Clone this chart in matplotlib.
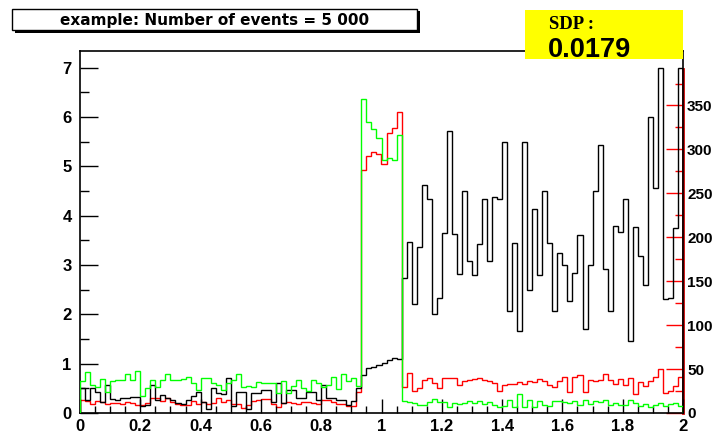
import numpy as np
import matplotlib
matplotlib.use('Agg')
import matplotlib.pyplot as plt
from matplotlib.patches import Rectangle
from matplotlib.ticker import MultipleLocator, FixedLocator

# 120 bins from 0 to 2
x_min, x_max, n_bins = 0.0, 2.0, 120

# black histogram (left axis)
black = [0.50, 0.26, 0.50, 0.43, 0.23, 0.57, 0.28, 0.26, 0.30, 0.30, 0.33, 0.33, 0.14, 0.16, 0.57,
         0.26, 0.37, 0.30, 0.26, 0.21, 0.18, 0.26, 0.35, 0.43, 0.23, 0.09, 0.50,
         0.40, 0.39, 0.70, 0.14, 0.43, 0.43, 0.09, 0.41, 0.41, 0.47, 0.47, 0.23, 0.60, 0.21,
         0.47, 0.47, 0.30, 0.30, 0.43, 0.43, 0.26, 0.57, 0.30, 0.30, 0.26, 0.26, 0.16, 0.24, 0.50,
         0.77, 0.91, 0.94, 0.97, 1.01, 1.08, 1.12, 1.09,
         2.73, 3.46, 2.20, 3.37, 4.62, 4.33, 2.01, 2.34, 3.64,
         5.71, 3.63, 2.81, 4.50, 3.08, 2.79, 3.42, 4.33, 3.08, 4.38, 4.33, 5.50, 2.07, 3.44,
         1.66, 5.50, 2.49, 4.13, 2.79, 4.50, 3.44, 2.07, 3.24,
         3.00, 2.27, 2.83, 3.60, 1.71, 3.00, 4.51, 5.44, 2.92, 2.07, 3.80, 3.66, 4.33, 1.46,
         3.78, 3.18, 2.60, 6.01, 4.56, 7.00, 2.31, 2.34, 3.75, 7.00]

# green histogram (left axis)
green = [0.64, 0.84, 0.57, 0.53, 0.68, 0.43, 0.64, 0.66, 0.67, 0.80, 0.67, 0.86, 0.35, 0.50, 0.67,
         0.53, 0.67, 0.80, 0.67, 0.66, 0.68, 0.74, 0.60, 0.47, 0.70, 0.70, 0.60,
         0.57, 0.47, 0.60, 0.67, 0.80, 0.52, 0.55, 0.52, 0.62, 0.60, 0.60, 0.60, 0.41, 0.64,
         0.40, 0.55, 0.66, 0.50, 0.45, 0.67, 0.60, 0.52, 0.57, 0.74, 0.48, 0.79, 0.64, 0.70, 0.55,
         6.36, 5.91, 5.76, 5.58, 5.13, 5.18, 5.12, 5.63,
         0.24, 0.22, 0.20, 0.16, 0.16, 0.23, 0.28, 0.22, 0.23, 0.13, 0.21, 0.19, 0.21, 0.24,
         0.21, 0.24, 0.19, 0.23, 0.16, 0.12, 0.14, 0.26, 0.13, 0.38, 0.12, 0.26, 0.12, 0.25,
         0.16, 0.14, 0.25, 0.24, 0.23, 0.21, 0.24, 0.16, 0.26, 0.19, 0.25, 0.23, 0.26, 0.16,
         0.20, 0.16, 0.16, 0.26, 0.21, 0.14, 0.19, 0.13, 0.16, 0.21, 0.14, 0.19, 0.21, 0.14]

# red histogram (right axis units)
red = [14.4, 13.3, 10.6, 13.3, 12.5, 9.9, 11.4, 11.4, 9.9, 12.5, 11.4, 9.1, 9.1, 11.4, 16.7,
       16.7, 13.7, 16.7, 12.5, 10.6, 9.1, 9.1, 13.3, 9.9, 12.5, 10.6, 11.4, 16.7,
       12.5, 14.4, 10.6, 9.9, 5.3, 9.1, 13.7, 14.4, 15.6, 15.6, 10.6, 7.2, 11.4, 12.5,
       11.4, 10.6, 12.5, 12.5, 11.4, 10.6, 14.4, 14.4, 12.5, 10.6, 10.6, 8.0, 8.5, 24.0,
       277, 293, 297, 295, 283, 319, 324, 343,
       30, 45, 25, 28, 37, 39.5, 34, 28, 40, 40, 40, 32, 36, 37, 38.7, 40, 38, 36, 34, 25.5,
       32, 33, 33, 35, 33, 36, 35, 38.7, 36, 32, 29.5, 36, 41, 24, 41, 43, 24, 38, 36, 37.5,
       44, 37.5, 33, 38.7, 32, 39.5, 22, 35, 31, 36, 40.5, 50, 23, 25, 31, 41]

left_max = 7.34
right_max = 412
right_axis_top = 392
right_major = [0, 50, 100, 150, 200, 250, 300, 350]
right_minor = [25, 75, 125, 175, 225, 275, 325, 375]

title = "example: Number of events = 5 000"
sdp_label = "SDP :"
sdp_value = "0.0179"

W, H = 717, 437
fig = plt.figure(figsize=(W / 100, H / 100), dpi=100)
fig.patch.set_facecolor('white')

ax = fig.add_axes([80 / W, 1 - 413 / H, 603 / W, 362 / H])
ax2 = ax.twinx()
ax.set_zorder(ax2.get_zorder() + 1)
ax.patch.set_visible(False)

edges = np.linspace(x_min, x_max, n_bins + 1)
ax2.stairs(red, edges, color='#ff0000', linewidth=1.0, zorder=3)
ax.stairs(black, edges, color='black', linewidth=1.0, zorder=3)
ax.stairs(green, edges, color='#00ff00', linewidth=1.0, zorder=4)

ax.set_xlim(x_min, x_max)
ax.set_ylim(0, left_max)
ax2.set_ylim(0, right_max)

font = {'family': 'Liberation Sans', 'weight': 'bold', 'size': 12}
font_r = {'family': 'Liberation Sans', 'weight': 'bold', 'size': 11}

ax.xaxis.set_major_locator(MultipleLocator(0.2))
ax.xaxis.set_minor_locator(MultipleLocator(0.05))
ax.yaxis.set_major_locator(MultipleLocator(1))
ax.yaxis.set_minor_locator(MultipleLocator(0.5))
ax.xaxis.set_major_formatter(plt.FuncFormatter(lambda v, p: f"{v:g}"))
ax.yaxis.set_major_formatter(plt.FuncFormatter(lambda v, p: f"{v:g}"))

ax.tick_params(axis='x', which='major', direction='in', length=10, width=1, pad=4, top=False)
ax.tick_params(axis='x', which='minor', direction='in', length=5, width=1, top=False)
ax.tick_params(axis='y', which='major', direction='in', length=13, width=1, pad=6, right=False)
ax.tick_params(axis='y', which='minor', direction='in', length=6.5, width=1, right=False)
for lab in ax.get_xticklabels() + ax.get_yticklabels():
    lab.set_fontproperties(font)

ax2.yaxis.set_major_locator(FixedLocator(right_major))
ax2.yaxis.set_minor_locator(FixedLocator(right_minor))
ax2.tick_params(axis='y', which='major', direction='in', length=12, width=1, color='#ff0000', pad=3)
ax2.tick_params(axis='y', which='minor', direction='in', length=6, width=1, color='#ff0000')
for lab in ax2.get_yticklabels():
    lab.set_fontproperties(font_r)

for s in ['left', 'bottom', 'top', 'right']:
    ax.spines[s].set_linewidth(1.2)
    ax.spines[s].set_color('black')
for s in ['left', 'bottom', 'top']:
    ax2.spines[s].set_visible(False)
ax2.spines['right'].set_color('#cc0000')
ax2.spines['right'].set_linewidth(2.0)
ax2.spines['right'].set_bounds(0, right_axis_top)
ax2.spines['right'].set_zorder(10)

# title box with shadow
fig.patches.append(Rectangle((15 / W, 1 - 33 / H), 405 / W, 22 / H, transform=fig.transFigure,
                             facecolor='black', edgecolor='none', zorder=5))
fig.patches.append(Rectangle((12 / W, 1 - 30 / H), 405 / W, 21 / H, transform=fig.transFigure,
                             facecolor='white', edgecolor='black', linewidth=1, zorder=6))
fig.text(215 / W, 1 - 20 / H, title, ha='center', va='center', fontsize=11,
         fontweight='bold', family='DejaVu Sans', zorder=7)

# SDP box
fig.patches.append(Rectangle((525 / W, 1 - 59 / H), 158 / W, 49 / H, transform=fig.transFigure,
                             facecolor='#ffff00', edgecolor='none', zorder=5))
fig.text(549 / W, 1 - 29 / H, sdp_label, ha='left', va='baseline', fontsize=13.5,
         fontweight='bold', family='Liberation Serif', zorder=7)
fig.text(548 / W, 1 - 57 / H, sdp_value, ha='left', va='baseline', fontsize=19.5,
         fontweight='bold', family='Liberation Sans', zorder=7)

fig.savefig('out.png', dpi=100)
